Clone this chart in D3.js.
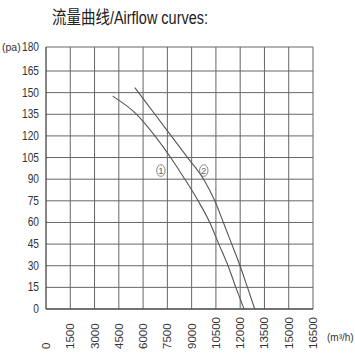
<!DOCTYPE html>
<html>
<head>
<meta charset="utf-8">
<script src="https://cdn.jsdelivr.net/npm/d3@7"></script>
<style>
body { margin: 0; background: #fff; }
text { font-family: "Liberation Sans", Arial, "Noto Sans CJK SC", sans-serif; fill: #333; }
</style>
</head>
<body>
<svg id="chart" width="355" height="355"></svg>
<script>
// axis ticks
var xTicks = [0, 1500, 3000, 4500, 6000, 7500, 9000, 10500, 12000, 13500, 15000, 16500];
var yTicks = [0, 15, 30, 45, 60, 75, 90, 105, 120, 135, 150, 165, 180];

// curve 1 (lower / left)
var flow1 = [4120, 5600, 6730, 7700, 8580, 9400, 10120, 10680, 11250, 11730, 12240];
var pres1 = [147.6, 135, 120, 105, 90, 75, 60, 45, 30, 15, 0];
// curve 2 (upper / right)
var flow2 = [5490, 5725, 6730, 7740, 8750, 9740, 10430, 10960, 11480, 11990, 12450, 12900];
var pres2 = [153.5, 150, 135, 120, 105, 90, 75, 60, 45, 30, 15, 0];

var curveNames = ['1', '2'];
var labelFlow = [7100, 9750];
var labelPres = [96, 96];

var svg = d3.select('#chart');
var margin = {left: 46, right: 42, top: 47, bottom: 46};
var width = 355 - margin.left - margin.right;
var height = 355 - margin.top - margin.bottom;

var x = d3.scaleLinear().domain([0, 16500]).range([0, width]);
// top row of the printed grid is a little taller than the others
var y = d3.scaleLinear().domain([0, 165, 180]).range([height, 24, 0]);

// title
svg.append('text')
  .attr('x', 52).attr('y', 24)
  .attr('font-size', 18)
  .attr('textLength', 156).attr('lengthAdjust', 'spacingAndGlyphs')
  .style('fill', '#222')
  .text('流量曲线/Airflow curves:');

var g = svg.append('g').attr('transform', 'translate(' + margin.left + ',' + margin.top + ')');

// grid
g.selectAll('.vg').data(xTicks.slice(1)).enter().append('line')
  .attr('x1', function(d) { return x(d); }).attr('x2', function(d) { return x(d); })
  .attr('y1', 0).attr('y2', height)
  .attr('stroke', '#666').attr('stroke-width', 1);
g.selectAll('.hg').data(yTicks.slice(1)).enter().append('line')
  .attr('x1', 0).attr('x2', width)
  .attr('y1', function(d) { return y(d); }).attr('y2', function(d) { return y(d); })
  .attr('stroke', '#666').attr('stroke-width', 1);

// axes lines
g.append('line').attr('x1', 0).attr('x2', 0).attr('y1', 0).attr('y2', height)
  .attr('stroke', '#444').attr('stroke-width', 1.3);
g.append('line').attr('x1', 0).attr('x2', width).attr('y1', height).attr('y2', height)
  .attr('stroke', '#444').attr('stroke-width', 1.3);

// y labels, slightly condensed
g.selectAll('.yl').data(yTicks).enter().append('text')
  .attr('transform', function(d) { return 'translate(-7,' + (y(d) + 4) + ') scale(0.85,1)'; })
  .attr('text-anchor', 'end')
  .attr('font-size', 12)
  .text(function(d) { return d; });

svg.append('text').attr('x', 2).attr('y', 51).attr('font-size', 10.5)
  .text('(pa)');

// x labels (rotated)
g.selectAll('.xl').data(xTicks).enter().append('text')
  .attr('transform', function(d) { return 'translate(' + (x(d) + 4) + ',' + (349 - margin.top) + ') rotate(-90)'; })
  .attr('text-anchor', 'start')
  .attr('font-size', 11.5)
  .text(function(d) { return d; });

svg.append('text').attr('x', 327).attr('y', 341).attr('font-size', 10)
  .text('(m³/h)');

// curves
var line = d3.line()
  .x(function(d) { return x(d[0]); })
  .y(function(d) { return y(d[1]); })
  .curve(d3.curveMonotoneX);

var c1 = flow1.map(function(f, i) { return [f, pres1[i]]; });
var c2 = flow2.map(function(f, i) { return [f, pres2[i]]; });
[c1, c2].forEach(function(c) {
  g.append('path').datum(c)
    .attr('d', line)
    .attr('fill', 'none').attr('stroke', '#555').attr('stroke-width', 1.1);
});

// curve number markers
curveNames.forEach(function(n, i) {
  var cx = x(labelFlow[i]), cy = y(labelPres[i]);
  g.append('ellipse').attr('cx', cx).attr('cy', cy).attr('rx', 4.2).attr('ry', 5.8)
    .attr('fill', 'none').attr('stroke', '#666').attr('stroke-width', 0.8);
  g.append('text').attr('x', cx).attr('y', cy + 3.5).attr('text-anchor', 'middle')
    .attr('font-size', 9.5).style('fill', '#666').text(n);
});
</script>
</body>
</html>
